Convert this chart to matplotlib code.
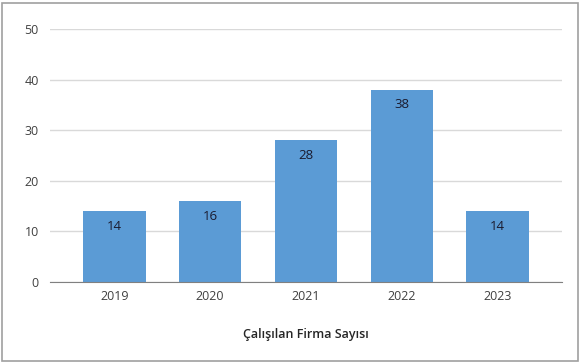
import matplotlib.pyplot as plt
from matplotlib.patches import Rectangle

years = ['2019', '2020', '2021', '2022', '2023']
values = [14, 16, 28, 38, 14]
yticks = [0, 10, 20, 30, 40, 50]

plt.rcParams['font.family'] = ['Open Sans', 'DejaVu Sans']

W, H = 581, 363
fig = plt.figure(figsize=(W / 100, H / 100), dpi=100)
ax = fig.add_axes([50 / W, 1 - 282 / H, (562 - 50) / W, (282 - 29) / H])

x = range(len(years))
bars = ax.bar(x, values, width=0.65, color='#5B9BD5', zorder=3)
for b, v in zip(bars, values):
    ax.annotate(str(v), (b.get_x() + b.get_width() / 2, v), xytext=(0, -11),
                textcoords='offset points', ha='center', va='center',
                fontsize=9.5, color='#1a1a2e', zorder=4)

ax.set_ylim(0, 50)
ax.set_xlim(-0.5 - 16.5 / 96, len(years) - 0.5 + 16.5 / 96)
ax.set_yticks(yticks)
ax.set_xticks(list(x))
ax.set_xticklabels(years)
ax.yaxis.grid(True, color='#d9d9d9', linewidth=1, zorder=0)
ax.tick_params(axis='both', length=0, labelsize=9, colors='#404040')
ax.tick_params(axis='y', pad=8)
ax.tick_params(axis='x', pad=6)
for s in ['top', 'right', 'left']:
    ax.spines[s].set_visible(False)
ax.spines['bottom'].set_color('#808080')
ax.spines['bottom'].set_zorder(5)

ax.set_xlabel('Çalışılan Firma Sayısı', fontsize=9, fontweight='semibold',
              color='#262626', labelpad=18)

fig.patches.append(Rectangle((2 / W, 2 / H), (W - 5) / W, (H - 5) / H,
                             transform=fig.transFigure, fill=False,
                             edgecolor='#a0a0a0', linewidth=1.2))

fig.savefig('out.png', dpi=100)
